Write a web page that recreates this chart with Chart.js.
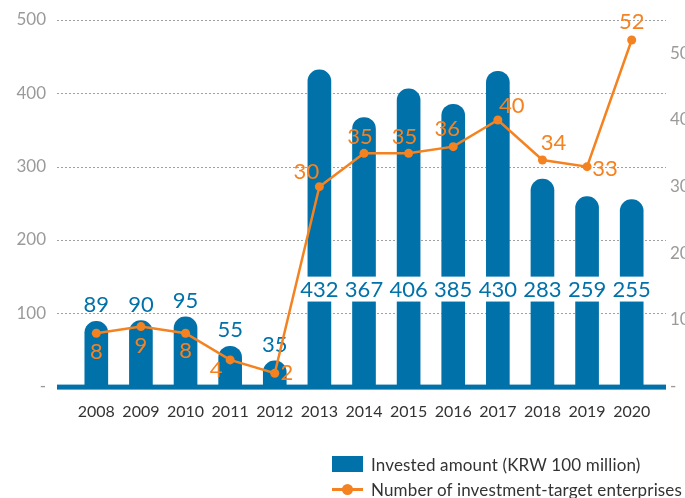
<!DOCTYPE html>
<html>
<head>
<meta charset="utf-8">
<script src="https://cdn.jsdelivr.net/npm/chart.js@4.4.0/dist/chart.umd.min.js"></script>
<style>
  body { margin: 0; background: #fff; }
  #wrap { position: relative; width: 685px; height: 498px; }
  #legend { position: absolute; left: 332px; top: 453px; font-family: Lato, sans-serif; font-size: 17px; letter-spacing: 0.15px; color: #333; }
  .row { display: flex; align-items: center; height: 22px; margin-bottom: 3px; white-space: nowrap; }
  .box { width: 31px; height: 16px; background: #0071a9; margin-right: 8px; }
  .ln { position: relative; width: 31px; height: 3px; background: #f58220; margin-right: 8px; }
  .ln:after { content: ''; position: absolute; left: 10px; top: -4px; width: 11px; height: 11px; border-radius: 50%; background: #f58220; }
</style>
</head>
<body>
<div id="wrap">
  <canvas id="chart" width="685" height="498"></canvas>
  <div id="legend">
    <div class="row"><span class="box"></span>Invested amount (KRW 100 million)</div>
    <div class="row"><span class="ln"></span>Number of investment-target enterprises</div>
  </div>
</div>
<script>
var years = ['2008', '2009', '2010', '2011', '2012', '2013', '2014', '2015', '2016', '2017', '2018', '2019', '2020'];
var invested = [89, 90, 95, 55, 35, 432, 367, 406, 385, 430, 283, 259, 255];
var enterprises = [8, 9, 8, 4, 2, 30, 35, 35, 36, 40, 34, 33, 52];
var leftTicks = [0, 100, 200, 300, 400, 500];
var rightTicks = [0, 10, 20, 30, 40, 50];

// where each enterprise count sits relative to its point
var countOffsets = [[0, 19], [0, 19], [0, 18], [-14, 10], [12, 0], [-13, -15], [-4, -16],
                    [-4, -16], [-6, -18], [14, -14], [11, -17], [18, 2], [0, -18]];

var BLUE = '#0071a9';
var ORANGE = '#f58220';
var FONT = 'Lato, sans-serif';

var decor = {
  id: 'decor',
  beforeDatasetsDraw: function (chart) {
    var ctx = chart.ctx, y = chart.scales.y;
    ctx.save();
    ctx.strokeStyle = '#a0a0a0';
    ctx.lineWidth = 1;
    ctx.setLineDash([2, 2]);
    leftTicks.forEach(function (v) {
      if (v === 0) return;
      var py = Math.round(y.getPixelForValue(v)) + 0.5;
      ctx.beginPath();
      ctx.moveTo(57, py);
      ctx.lineTo(666, py);
      ctx.stroke();
    });
    ctx.restore();
  },
  afterDatasetDraw: function (chart, args) {
    if (args.index !== 0) return;
    var ctx = chart.ctx, y = chart.scales.y;
    var meta = chart.getDatasetMeta(0);
    var bandTop = y.getPixelForValue(150), bandBottom = y.getPixelForValue(116);
    ctx.save();
    ctx.font = '22px ' + FONT;
    ctx.textAlign = 'center';
    ctx.textBaseline = 'middle';
    meta.data.forEach(function (bar, i) {
      var v = invested[i];
      if (v > 200) {
        ctx.fillStyle = '#fff';
        ctx.fillRect(bar.x - bar.width / 2 - 1, bandTop, bar.width + 2, bandBottom - bandTop);
        ctx.fillStyle = BLUE;
        ctx.fillText(v, bar.x, (bandTop + bandBottom) / 2 + 1);
      } else {
        ctx.fillStyle = BLUE;
        ctx.fillText(v, bar.x, bar.y - 16);
      }
    });
    // thick base line
    var zero = y.getPixelForValue(0);
    ctx.fillStyle = BLUE;
    ctx.fillRect(57, zero - 2, 609, 5);
    ctx.restore();
  },
  afterDatasetsDraw: function (chart) {
    var ctx = chart.ctx;
    var meta = chart.getDatasetMeta(1);
    ctx.save();
    ctx.font = '22px ' + FONT;
    ctx.textAlign = 'center';
    ctx.textBaseline = 'middle';
    ctx.fillStyle = ORANGE;
    meta.data.forEach(function (pt, i) {
      var off = countOffsets[i];
      ctx.fillText(enterprises[i], pt.x + off[0], pt.y + off[1]);
    });
    ctx.restore();
  }
};

// keep the tick padding from pushing the plot area down
function fixSide(width) {
  return function (s) {
    s.width = width;
    s.paddingTop = 0;
    s.paddingBottom = 0;
  };
}

new Chart(document.getElementById('chart'), {
  type: 'bar',
  data: {
    labels: years,
    datasets: [{
      label: 'Invested amount (KRW 100 million)',
      data: invested,
      backgroundColor: BLUE,
      barThickness: 23,
      borderRadius: { topLeft: 12, topRight: 12, bottomLeft: 0, bottomRight: 0 },
      borderSkipped: 'bottom',
      yAxisID: 'y',
      order: 1
    }, {
      type: 'line',
      label: 'Number of investment-target enterprises',
      data: enterprises,
      borderColor: ORANGE,
      backgroundColor: ORANGE,
      borderWidth: 2.5,
      pointRadius: 4.5,
      pointBackgroundColor: ORANGE,
      pointBorderWidth: 0,
      tension: 0,
      yAxisID: 'y1',
      order: 0
    }]
  },
  options: {
    responsive: false,
    animation: false,
    devicePixelRatio: 1,
    layout: { padding: { top: 20, left: 0, right: 0, bottom: 0 } },
    plugins: { legend: { display: false }, tooltip: { enabled: false } },
    scales: {
      x: {
        offset: true,
        grid: { display: false, drawTicks: false },
        border: { display: false },
        ticks: { color: '#333', font: { family: FONT, size: 16 }, padding: 16, maxRotation: 0 },
        afterFit: function (s) { s.height = 111.4; }
      },
      y: {
        position: 'left',
        min: 0, max: 500,
        grid: { display: false, drawTicks: false },
        border: { display: false },
        afterBuildTicks: function (s) { s.ticks = leftTicks.map(function (v) { return { value: v }; }); },
        ticks: {
          color: '#9a9a9a', font: { family: FONT, size: 17 }, padding: 28,
          callback: function (v) { return v === 0 ? '-' : v; }
        },
        afterFit: fixSide(74)
      },
      y1: {
        position: 'right',
        min: 0, max: 55,
        grid: { display: false, drawTicks: false },
        border: { display: false },
        afterBuildTicks: function (s) { s.ticks = rightTicks.map(function (v) { return { value: v }; }); },
        ticks: {
          color: '#9a9a9a', font: { family: FONT, size: 17 }, padding: 16,
          callback: function (v) { return v === 0 ? '-' : v; }
        },
        afterFit: fixSide(31)
      }
    }
  },
  plugins: [decor]
});
</script>
</body>
</html>
